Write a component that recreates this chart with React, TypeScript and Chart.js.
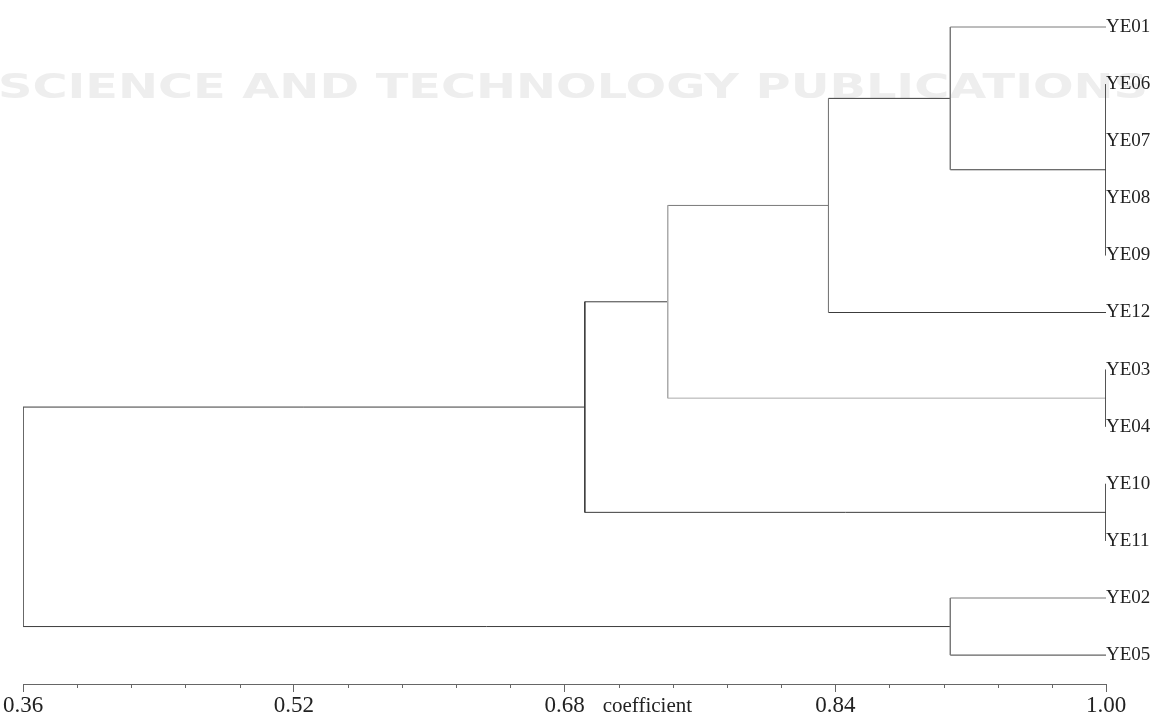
import React, { useEffect, useRef } from 'react';
import { Chart, registerables } from 'chart.js';

Chart.register(...registerables);

// ---- data ----
const leafLabels = ['YE01', 'YE06', 'YE07', 'YE08', 'YE09', 'YE12', 'YE03', 'YE04', 'YE10', 'YE11', 'YE02', 'YE05'];
const nodeNames = ['N0', 'N1', 'N2', 'N3', 'N4', 'N5', 'N6', 'N7', 'N8'];
const nodeChildren = [
  ['YE06', 'YE07', 'YE08', 'YE09'],
  ['YE03', 'YE04'],
  ['YE10', 'YE11'],
  ['YE01', 'N0'],
  ['N3', 'YE12'],
  ['N4', 'N1'],
  ['N5', 'N2'],
  ['YE02', 'YE05'],
  ['N6', 'N7'],
];
const nodeCoefficients = [1.0, 1.0, 1.0, 0.908, 0.836, 0.741, 0.692, 0.908, 0.36];
const xMin = 0.36;
const xMax = 1.0;
const xMajorCount = 5;
const xMinorStep = 0.032;
const xAxisTitle = 'coefficient';
const watermarkText = 'SCIENCE AND TECHNOLOGY PUBLICATIONS';

// ---- styles ----
const DARK = '#3c3c3c';
const MID = '#7a7a7a';
const LIGHT = '#ababab';
const verticalColors: Record<string, string> = {
  N0: DARK, N1: DARK, N2: DARK, N3: MID, N4: MID, N5: LIGHT, N6: DARK, N7: MID, N8: '#555',
};
const branchColors: Record<string, string> = {
  YE01: MID, N0: DARK, N3: DARK, YE12: DARK, N4: MID, N1: LIGHT, N5: DARK, N2: DARK, N6: DARK, N7: DARK, YE02: MID, YE05: DARK,
};
const SERIF = '"Liberation Serif", "Times New Roman", serif';

function buildDatasets() {
  const pos: Record<string, { x: number; y: number }> = {};
  leafLabels.forEach((l, i) => { pos[l] = { x: xMax, y: i }; });
  const sets: any[] = [];
  nodeNames.forEach((n, k) => {
    const c = nodeCoefficients[k];
    const ys = nodeChildren[k].map((ch) => pos[ch].y);
    const lo = Math.min(...ys);
    const hi = Math.max(...ys);
    pos[n] = { x: c, y: (lo + hi) / 2 };
    sets.push({ data: [{ x: c, y: lo }, { x: c, y: hi }], borderColor: verticalColors[n] });
    nodeChildren[k].forEach((ch) => {
      if (pos[ch].x !== c) {
        sets.push({ data: [{ x: c, y: pos[ch].y }, { x: pos[ch].x, y: pos[ch].y }], borderColor: branchColors[ch] || DARK });
      }
    });
  });
  return sets.map((s) => ({
    ...s,
    showLine: true,
    pointRadius: 0,
    pointHoverRadius: 0,
    borderWidth: 1,
    fill: false,
    tension: 0,
  }));
}

const decorPlugin = {
  id: 'decor',
  beforeDraw(chart: any) {
    const ctx = chart.ctx;
    ctx.save();
    ctx.font = 'bold 33px "DejaVu Sans", sans-serif';
    const w = ctx.measureText(watermarkText).width;
    ctx.translate(-2, 98);
    ctx.scale(1150 / w, 1);
    ctx.fillStyle = '#eeeeee';
    ctx.textBaseline = 'alphabetic';
    ctx.textAlign = 'left';
    ctx.fillText(watermarkText, 0, 0);
    ctx.restore();
  },
  afterDraw(chart: any) {
    const ctx = chart.ctx;
    const xs = chart.scales.x;
    ctx.save();
    ctx.strokeStyle = '#666';
    ctx.lineWidth = 1;
    const n = Math.round((xMax - xMin) / xMinorStep);
    for (let i = 0; i <= n; i++) {
      if (i % 5 === 0) continue;
      const px = Math.round(xs.getPixelForValue(xMin + i * xMinorStep)) + 0.5;
      ctx.beginPath();
      ctx.moveTo(px, xs.top);
      ctx.lineTo(px, xs.top + 4);
      ctx.stroke();
    }
    ctx.fillStyle = '#222';
    ctx.font = '21px ' + SERIF;
    ctx.textAlign = 'center';
    ctx.textBaseline = 'alphabetic';
    ctx.fillText(xAxisTitle, xs.getPixelForValue(0.729), xs.top + 28);
    ctx.restore();
  },
};

export default function App() {
  const ref = useRef<HTMLCanvasElement | null>(null);
  useEffect(() => {
    if (!ref.current) return;
    const top = 14;
    const ppu = 57.1;
    const yMin = (top - 27) / ppu;
    const yMax = yMin + (684 - top) / ppu;
    const chart = new Chart(ref.current, {
      type: 'scatter',
      data: { datasets: buildDatasets() as any },
      plugins: [decorPlugin],
      options: {
        animation: false,
        responsive: true,
        maintainAspectRatio: false,
        layout: { padding: { top, left: 23, right: 0, bottom: 0 } },
        plugins: { legend: { display: false }, tooltip: { enabled: false }, title: { display: false } },
        events: [],
        scales: {
          x: {
            type: 'linear',
            position: 'bottom',
            min: xMin,
            max: xMax,
            ticks: {
              count: xMajorCount,
              autoSkip: false,
              maxRotation: 0,
              padding: 0,
              color: '#222',
              font: { family: SERIF, size: 23 },
              callback: (v: any) => Number(v).toFixed(2),
            },
            grid: { display: true, drawOnChartArea: false, drawTicks: true, tickLength: 8, tickColor: '#666', color: '#666' },
            border: { display: true, color: '#666', width: 1 },
            afterFit: (s: any) => { s.height = 38; },
          },
          y: {
            type: 'linear',
            position: 'right',
            reverse: true,
            min: yMin,
            max: yMax,
            ticks: {
              stepSize: 1,
              includeBounds: false,
              autoSkip: false,
              padding: 0,
              color: '#222',
              font: { family: SERIF, size: 19 },
              callback: (v: any) => (Number.isInteger(v) && v >= 0 && v < leafLabels.length ? leafLabels[v] : ''),
            },
            grid: { display: false, drawTicks: false, drawOnChartArea: false },
            border: { display: false },
            afterFit: (s: any) => { s.width = 47; },
          },
        },
      },
    });
    return () => chart.destroy();
  }, []);
  return (
    <div style={{ position: 'fixed', left: 0, top: 0, width: 1153, height: 722, background: '#fff' }}>
      <canvas ref={ref} />
    </div>
  );
}
